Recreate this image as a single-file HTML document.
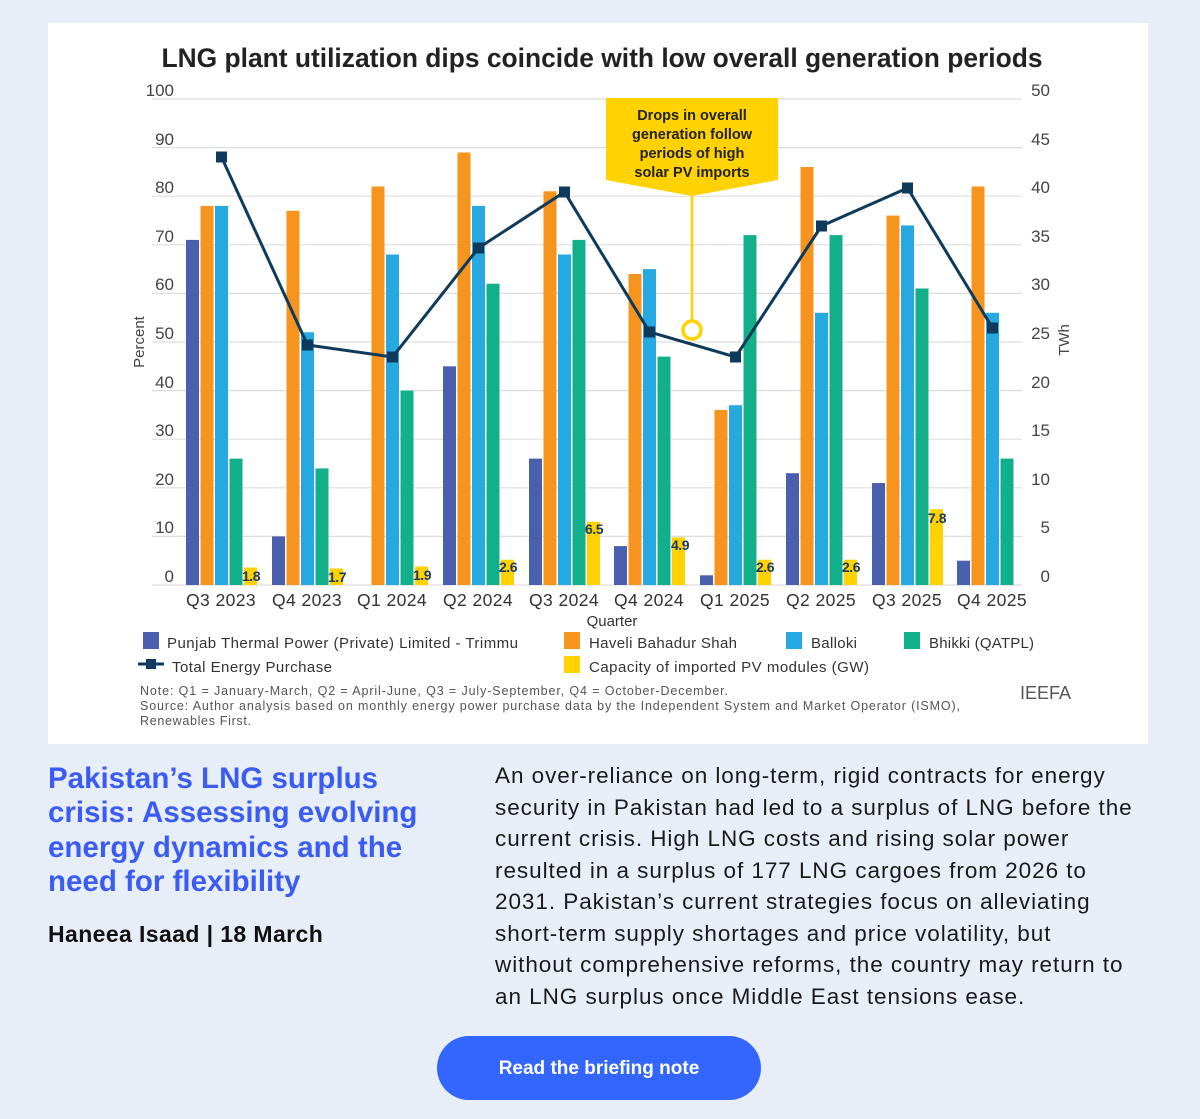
<!DOCTYPE html>
<html><head><meta charset="utf-8"><style>
body{margin:0;width:1200px;height:1119px;background:#e8eef7;font-family:"Liberation Sans",sans-serif;position:relative;overflow:hidden}
.card{position:absolute;left:48px;top:23px;width:1100px;height:721px;background:#fff}
svg{position:absolute;left:0;top:0}
h2{position:absolute;left:48px;top:762px;margin:0;width:420px;font-size:29.5px;line-height:34.3px;color:#3a5cf2;font-weight:bold;white-space:nowrap}
.auth{position:absolute;left:48px;top:921px;font-size:23px;font-weight:bold;color:#111;letter-spacing:0.4px}
.p{position:absolute;left:495px;top:760px;width:680px;font-size:22.5px;line-height:31.5px;color:#1a1a1a;white-space:nowrap;letter-spacing:0.95px}
.btn{position:absolute;left:437px;top:1036px;width:324px;height:64px;border-radius:32px;background:#3366ff;color:#fff;font-weight:bold;font-size:19px;text-align:center;line-height:66px}
</style></head><body>
<div class="card"></div>
<svg width="1200" height="760" font-family="Liberation Sans, sans-serif">
<text x="602" y="67" text-anchor="middle" font-size="27" font-weight="bold" fill="#222" textLength="881" lengthAdjust="spacingAndGlyphs">LNG plant utilization dips coincide with low overall generation periods</text>
<g stroke="#ddd" stroke-width="1.2">
<line x1="152" x2="1022" y1="99" y2="99"/><line x1="152" x2="1022" y1="147.6" y2="147.6"/><line x1="152" x2="1022" y1="196.2" y2="196.2"/><line x1="152" x2="1022" y1="244.8" y2="244.8"/><line x1="152" x2="1022" y1="293.4" y2="293.4"/><line x1="152" x2="1022" y1="342" y2="342"/><line x1="152" x2="1022" y1="390.6" y2="390.6"/><line x1="152" x2="1022" y1="439.2" y2="439.2"/><line x1="152" x2="1022" y1="487.8" y2="487.8"/><line x1="152" x2="1022" y1="536.4" y2="536.4"/><line x1="152" x2="1022" y1="585" y2="585"/>
</g>
<g font-size="17" fill="#444" text-anchor="end">
<text x="174" y="96">100</text><text x="174" y="145">90</text><text x="174" y="193">80</text><text x="174" y="242">70</text><text x="174" y="290">60</text><text x="174" y="339">50</text><text x="174" y="388">40</text><text x="174" y="436">30</text><text x="174" y="485">20</text><text x="174" y="533">10</text><text x="174" y="582">0</text>
<text x="1050" y="96">50</text><text x="1050" y="145">45</text><text x="1050" y="193">40</text><text x="1050" y="242">35</text><text x="1050" y="290">30</text><text x="1050" y="339">25</text><text x="1050" y="388">20</text><text x="1050" y="436">15</text><text x="1050" y="485">10</text><text x="1050" y="533">5</text><text x="1050" y="582">0</text>
</g>
<text transform="translate(144,342) rotate(-90)" font-size="15" fill="#444" text-anchor="middle">Percent</text>
<text transform="translate(1069,340) rotate(-90)" font-size="15" fill="#444" text-anchor="middle">TWh</text>
<g fill="#4a5fae">
<rect x="186" y="239.9" width="13" height="345.1"/><rect x="272" y="536.4" width="13" height="48.6"/><rect x="443" y="366.3" width="13" height="218.7"/><rect x="529" y="458.6" width="13" height="126.4"/><rect x="614" y="546.1" width="13" height="38.9"/><rect x="700" y="575.3" width="13" height="9.7"/><rect x="786" y="473.2" width="13" height="111.8"/><rect x="872" y="483" width="13" height="102"/><rect x="957" y="560.7" width="13" height="24.3"/>
</g>
<g fill="#f7941d">
<rect x="200.5" y="205.9" width="13" height="379.1"/><rect x="286.5" y="210.8" width="13" height="374.2"/><rect x="371.5" y="186.5" width="13" height="398.5"/><rect x="457.5" y="152.5" width="13" height="432.5"/><rect x="543.5" y="191.3" width="13" height="393.7"/><rect x="628.5" y="274" width="13" height="311"/><rect x="714.5" y="410" width="13" height="175"/><rect x="800.5" y="167" width="13" height="418"/><rect x="886.5" y="215.6" width="13" height="369.4"/><rect x="971.5" y="186.5" width="13" height="398.5"/>
</g>
<g fill="#26a9e0">
<rect x="215" y="205.9" width="13" height="379.1"/><rect x="301" y="332.3" width="13" height="252.7"/><rect x="386" y="254.5" width="13" height="330.5"/><rect x="472" y="205.9" width="13" height="379.1"/><rect x="558" y="254.5" width="13" height="330.5"/><rect x="643" y="269.1" width="13" height="315.9"/><rect x="729" y="405.2" width="13" height="179.8"/><rect x="815" y="312.8" width="13" height="272.2"/><rect x="901" y="225.4" width="13" height="359.6"/><rect x="986" y="312.8" width="13" height="272.2"/>
</g>
<g fill="#12b08a">
<rect x="229.5" y="458.6" width="13" height="126.4"/><rect x="315.5" y="468.4" width="13" height="116.6"/><rect x="400.5" y="390.6" width="13" height="194.4"/><rect x="486.5" y="283.7" width="13" height="301.3"/><rect x="572.5" y="239.9" width="13" height="345.1"/><rect x="657.5" y="356.6" width="13" height="228.4"/><rect x="743.5" y="235.1" width="13" height="349.9"/><rect x="829.5" y="235.1" width="13" height="349.9"/><rect x="915.5" y="288.5" width="13" height="296.5"/><rect x="1000.5" y="458.6" width="13" height="126.4"/>
</g>
<g fill="#ffd200">
<rect x="244" y="567.5" width="13" height="17.5"/><rect x="330" y="568.5" width="13" height="16.5"/><rect x="415" y="566.5" width="13" height="18.5"/><rect x="501" y="559.7" width="13" height="25.3"/><rect x="587" y="521.8" width="13" height="63.2"/><rect x="672" y="537.4" width="13" height="47.6"/><rect x="758" y="559.7" width="13" height="25.3"/><rect x="844" y="559.7" width="13" height="25.3"/><rect x="930" y="509.2" width="13" height="75.8"/>
</g>
<g font-size="14" font-weight="bold" fill="#1d3a5e" text-anchor="middle" letter-spacing="-0.5">
<text x="251" y="581">1.8</text><text x="337" y="582">1.7</text><text x="422" y="580">1.9</text><text x="508" y="572">2.6</text><text x="594" y="534">6.5</text><text x="680" y="550">4.9</text><text x="765" y="572">2.6</text><text x="851" y="572">2.6</text><text x="937" y="523">7.8</text>
</g>
<polygon points="606,98 778,98 778,180 692,196 606,180" fill="#ffd200"/>
<g font-size="14.5" font-weight="bold" fill="#222" text-anchor="middle"><text x="692" y="120">Drops in overall</text><text x="692" y="139">generation follow</text><text x="692" y="158">periods of high</text><text x="692" y="177">solar PV imports</text></g>
<line x1="692" y1="196" x2="692" y2="320" stroke="#ffd200" stroke-width="2.5"/>
<circle cx="692" cy="330" r="9" fill="#fff" stroke="#ffd200" stroke-width="3.5"/>
<polyline points="221.5,157 307.5,345 392.5,357 478.5,248 564.5,192 649.5,332 735.5,357 821.5,226 907.5,188 992.5,328" fill="none" stroke="#0e3a5c" stroke-width="3"/>
<g fill="#0e3a5c">
<rect x="216" y="151.5" width="11" height="11"/><rect x="302" y="339.5" width="11" height="11"/><rect x="387" y="351.5" width="11" height="11"/><rect x="473" y="242.5" width="11" height="11"/><rect x="559" y="186.5" width="11" height="11"/><rect x="644" y="326.5" width="11" height="11"/><rect x="730" y="351.5" width="11" height="11"/><rect x="816" y="220.5" width="11" height="11"/><rect x="902" y="182.5" width="11" height="11"/><rect x="987" y="322.5" width="11" height="11"/>
</g>
<g font-size="17.5" fill="#333" text-anchor="middle" letter-spacing="0.4">
<text x="221" y="606">Q3 2023</text><text x="307" y="606">Q4 2023</text><text x="392" y="606">Q1 2024</text><text x="478" y="606">Q2 2024</text><text x="564" y="606">Q3 2024</text><text x="649" y="606">Q4 2024</text><text x="735" y="606">Q1 2025</text><text x="821" y="606">Q2 2025</text><text x="907" y="606">Q3 2025</text><text x="992" y="606">Q4 2025</text>
</g>
<text x="612" y="626" font-size="15" fill="#333" text-anchor="middle">Quarter</text>
<g font-size="15" fill="#333" lengthAdjust="spacingAndGlyphs">
<rect x="143" y="632" width="16" height="17" fill="#4a5fae"/><text x="167" y="648" textLength="351">Punjab Thermal Power (Private) Limited - Trimmu</text>
<rect x="564" y="632" width="16" height="17" fill="#f7941d"/><text x="589" y="648" textLength="148">Haveli Bahadur Shah</text>
<rect x="786" y="632" width="16" height="17" fill="#26a9e0"/><text x="811" y="648" textLength="46">Balloki</text>
<rect x="904" y="632" width="16" height="17" fill="#12b08a"/><text x="929" y="648" textLength="105">Bhikki (QATPL)</text>
<line x1="138" x2="164" y1="664" y2="664" stroke="#0e3a5c" stroke-width="3"/><rect x="146" y="659" width="10" height="10" fill="#0e3a5c"/><text x="172" y="672" textLength="160">Total Energy Purchase</text>
<rect x="564" y="656" width="16" height="17" fill="#ffd200"/><text x="589" y="672" textLength="280">Capacity of imported PV modules (GW)</text>
</g>
<g font-size="12.5" fill="#555">
<text x="140" y="695" textLength="588">Note: Q1 = January-March, Q2 = April-June, Q3 = July-September, Q4 = October-December.</text>
<text x="140" y="710" textLength="820">Source: Author analysis based on monthly energy power purchase data by the Independent System and Market Operator (ISMO),</text>
<text x="140" y="725" textLength="111">Renewables First.</text>
</g>
<text x="1020" y="699" font-size="18" fill="#555">IEEFA</text>
</svg>
<h2>Pakistan’s LNG surplus<br>crisis: Assessing evolving<br>energy dynamics and the<br>need for flexibility</h2>
<div class="auth">Haneea Isaad | 18 March</div>
<div class="p">An over-reliance on long-term, rigid contracts for energy<br>security in Pakistan had led to a surplus of LNG before the<br>current crisis. High LNG costs and rising solar power<br>resulted in a surplus of 177 LNG cargoes from 2026 to<br>2031. Pakistan’s current strategies focus on alleviating<br>short-term supply shortages and price volatility, but<br>without comprehensive reforms, the country may return to<br>an LNG surplus once Middle East tensions ease.</div>
<div class="btn">Read the briefing note</div>
</body></html>
